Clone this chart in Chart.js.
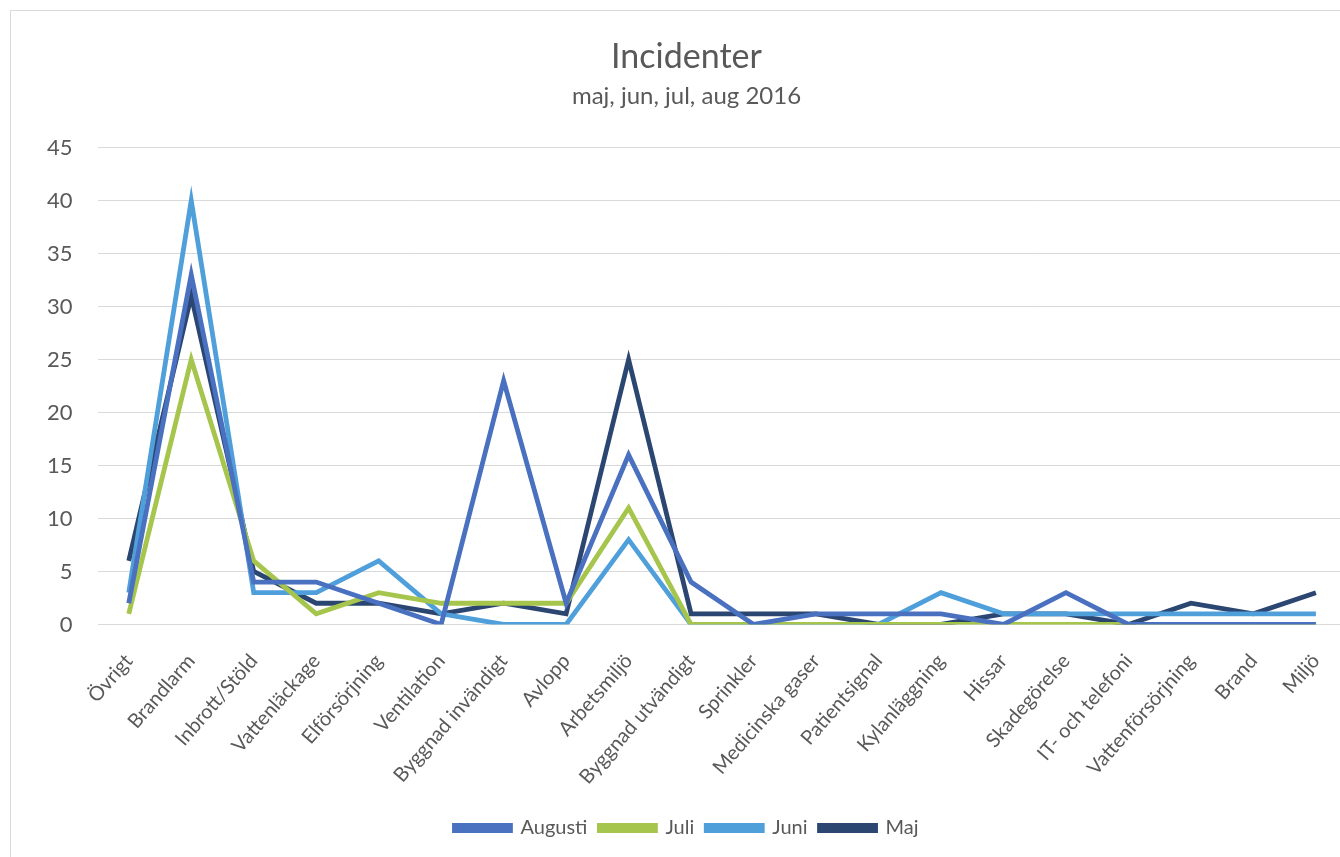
<!DOCTYPE html>
<html>
<head>
<meta charset="utf-8">
<script src="https://cdn.jsdelivr.net/npm/chart.js@4.4.0/dist/chart.umd.min.js"></script>
<style>
  html, body { margin: 0; padding: 0; background: #fff; overflow: hidden; }
  #wrap {
    position: absolute; left: 10px; top: 10px;
    width: 1340px; height: 847px;
    border: 1px solid #d9d9d9; border-right: none; border-bottom: none;
  }
</style>
</head>
<body>
<div id="wrap"><canvas id="lineChart"></canvas></div>
<script>
// categories on the x axis
var kategorier = ['Övrigt', 'Brandlarm', 'Inbrott/Stöld', 'Vattenläckage', 'Elförsörjning', 'Ventilation',
    'Byggnad invändigt', 'Avlopp', 'Arbetsmiljö', 'Byggnad utvändigt', 'Sprinkler', 'Medicinska gaser',
    'Patientsignal', 'Kylanläggning', 'Hissar', 'Skadegörelse', 'IT- och telefoni', 'Vattenförsörjning',
    'Brand', 'Miljö'];

// incidents per month
var augusti = [2, 33, 4, 4, 2, 0, 23, 2, 16, 4, 0, 1, 1, 1, 0, 3, 0, 0, 0, 0];
var juli    = [1, 25, 6, 1, 3, 2, 2, 2, 11, 0, 0, 0, 0, 0, 0, 0, 0, 0, 0, 0];
var juni    = [3, 40, 3, 3, 6, 1, 0, 0, 8, 0, 0, 0, 0, 3, 1, 1, 1, 1, 1, 1];
var maj     = [6, 31, 5, 2, 2, 1, 2, 1, 25, 1, 1, 1, 0, 0, 1, 1, 0, 2, 1, 3];

var serieNamn = ['Augusti', 'Juli', 'Juni', 'Maj'];
var serieData = [augusti, juli, juni, maj];
var colors = ['#4a70c0', '#a6c54c', '#4f9fdb', '#2b4670'];

var yTicks = [0, 5, 10, 15, 20, 25, 30, 35, 40, 45];

var textColor = '#595959';
var font = 'Lato, "Open Sans", sans-serif';

var datasets = serieData.map((vals, i) => ({
    label: serieNamn[i],
    data: vals,
    borderColor: colors[i],
    backgroundColor: colors[i],
    borderWidth: 4.8,
    pointRadius: 0,
    fill: false,
    tension: 0
}));

var ctx = document.getElementById('lineChart').getContext('2d');
var lineChart = new Chart(ctx, {
    type: 'line',
    data: {
        labels: kategorier,
        datasets: datasets
    },
    options: {
        responsive: true,
        maintainAspectRatio: false,
        animation: false,
        layout: { padding: { left: 11, right: 0, top: 20, bottom: 10 } },
        plugins: {
            title: {
                display: true,
                text: 'Incidenter',
                color: textColor,
                font: { family: font, size: 34, weight: 'normal' },
                padding: { top: 6, bottom: 4 }
            },
            subtitle: {
                display: true,
                text: 'maj, jun, jul, aug 2016',
                color: textColor,
                font: { family: font, size: 24, weight: 'normal' },
                padding: { top: 0, bottom: 37 }
            },
            legend: {
                position: 'bottom',
                labels: {
                    color: textColor,
                    font: { family: font, size: 20 },
                    boxWidth: 56,
                    boxHeight: 5,
                    padding: 12
                }
            },
            tooltip: { enabled: false }
        },
        scales: {
            x: {
                offset: true,
                grid: { display: false },
                border: { display: false },
                ticks: {
                    color: textColor,
                    font: { family: font, size: 20 },
                    minRotation: 49,
                    maxRotation: 49,
                    autoSkip: false,
                    padding: 17
                }
            },
            y: {
                min: 0,
                max: 45,
                afterBuildTicks: function (axis) {
                    axis.ticks = yTicks.map(v => ({ value: v }));
                },
                grid: { color: '#d9d9d9', lineWidth: 1, drawTicks: false },
                border: { display: false },
                ticks: {
                    color: textColor,
                    font: { family: font, size: 22 },
                    padding: 25
                }
            }
        }
    }
});
</script>
</body>
</html>
